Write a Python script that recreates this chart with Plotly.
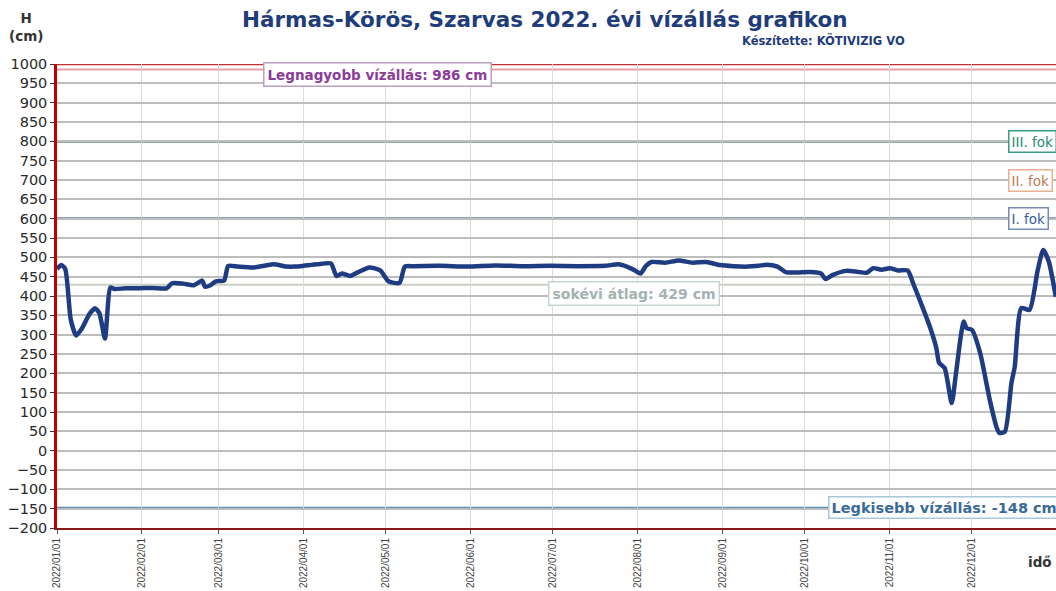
import pandas as pd
import plotly.graph_objects as go

# ---- data (day offset from 2022-01-01, water level cm) ----
day_offsets = [0, 1.5, 3, 5, 7, 9, 12, 14, 15.5, 17.5, 19.5, 21, 25, 30, 35, 40,
               42, 46, 50, 53, 54, 56, 58, 61, 62.5, 66, 72, 79, 84, 87, 90, 95,
               100, 102, 104, 107, 110, 114, 118, 121, 125, 127, 130, 140, 150,
               160, 170, 180, 190, 200, 205, 208, 211, 213, 215, 217, 222, 227,
               232, 237, 242, 247, 252, 256, 259, 263, 266, 270, 275, 279, 280.5,
               283, 288, 292, 295.5, 298, 301, 304, 307, 310.5, 312.5, 316, 318.6,
               321, 322, 324, 326.6, 328, 330, 331, 332, 334, 337, 340.5, 343,
               344, 346, 348.4, 349.6, 352, 355, 358, 360, 362, 364.6]
water_level = [470, 480, 470, 340, 298, 315, 355, 368, 355, 290, 422, 418, 420,
               420, 421, 420, 433, 432, 428, 440, 424, 428, 438, 440, 478, 476,
               474, 482, 476, 476, 478, 482, 484, 452, 458, 452, 462, 474, 466,
               438, 434, 476, 477, 478, 476, 479, 477, 478, 477, 478, 482, 476,
               466, 458, 478, 488, 486, 492, 486, 488, 480, 477, 476, 478, 481,
               476, 462, 461, 462, 458, 444, 454, 465, 463, 460, 472, 468, 472,
               466, 466, 433, 370, 321, 265, 227, 214, 123, 191, 300, 334, 317,
               312, 252, 131, 60, 46, 49, 175, 217, 369, 364, 467, 519, 490, 398]

month_ticks = ["2022-01-01", "2022-02-01", "2022-03-01", "2022-04-01",
               "2022-05-01", "2022-06-01", "2022-07-01", "2022-08-01",
               "2022-09-01", "2022-10-01", "2022-11-01", "2022-12-01"]

# reference levels: (value, label, line colour, width, text colour, border colour)
levels = [
    (800, "III. fok", "#1d5a40", 2.5, "#2a8a78", "#3a9a88"),
    (700, "II. fok", "#a4a448", 2, "#c07a58", "#e8b090"),
    (600, "I. fok", "#2a3c84", 2.5, "#3a5aa8", "#7a8ab8"),
]
max_level = 986
min_level = -148
avg_level = 429

dates = pd.Timestamp("2022-01-01") + pd.to_timedelta(day_offsets, unit="D")

FONT = "DejaVu Sans, Verdana, sans-serif"
FONT_N = "Liberation Sans, Arial, sans-serif"

fig = go.Figure()
fig.add_trace(go.Scatter(
    x=dates, y=water_level, mode="lines",
    line=dict(color="#1f3b82", width=4.5, shape="spline", smoothing=0.6),
    showlegend=False, hoverinfo="skip"))

shapes = []
def hline(y, color, width):
    shapes.append(dict(type="line", xref="paper", x0=0, x1=1, yref="y", y0=y, y1=y,
                       line=dict(color=color, width=width), layer="below"))

hline(1000, "#c03030", 2.5)
hline(max_level, "#e8a0a8", 2)
for v, _, c, w, _, _ in levels:
    hline(v, c, w)
hline(avg_level, "#c8d0c4", 2)
hline(min_level, "#5a90b8", 2.5)

def px2x(px):
    return (px - 57) / 999.0

def py2y(py):
    return (528 - py) / 464.0

annotations = []
for v, lab, c, w, tc, bc in levels:
    annotations.append(dict(xref="paper", x=px2x(1008), xanchor="left", yref="y", y=v,
                            yanchor="middle", text=lab, showarrow=False,
                            font=dict(family=FONT, size=13.5, color=tc),
                            bgcolor="white", bordercolor=bc, borderwidth=1.5, borderpad=2))

annotations.append(dict(xref="paper", x=px2x(263), xanchor="left", yref="y", y=973,
                        yanchor="middle", text="<b>Legnagyobb vízállás: 986 cm</b>",
                        showarrow=False, font=dict(family=FONT, size=13.5, color="#8a3c98"),
                        bgcolor="white", bordercolor="#b8a0c0", borderwidth=1.5, borderpad=3))
annotations.append(dict(xref="paper", x=px2x(548), xanchor="left", yref="y", y=407,
                        yanchor="middle", text="<b>sokévi átlag: 429 cm</b>",
                        showarrow=False, font=dict(family=FONT, size=14, color="#a4b2b2"),
                        bgcolor="white", bordercolor="#c8d4d4", borderwidth=1.5, borderpad=3))
annotations.append(dict(xref="paper", x=px2x(828), xanchor="left", yref="y", y=min_level,
                        yanchor="middle", text="<b>Legkisebb vízállás: -148 cm</b>",
                        showarrow=False, font=dict(family=FONT, size=14.5, color="#3a6a98"),
                        bgcolor="white", bordercolor="#a8c8dc", borderwidth=1.5, borderpad=2))

annotations.append(dict(xref="paper", x=px2x(545), xanchor="center", yref="paper",
                        y=py2y(20), yanchor="middle",
                        text="<b>Hármas-Körös, Szarvas 2022. évi vízállás grafikon</b>",
                        showarrow=False, font=dict(family=FONT, size=21.5, color="#1f3d7a")))
annotations.append(dict(xref="paper", x=px2x(823), xanchor="center", yref="paper",
                        y=py2y(40), yanchor="middle",
                        text="<b>Készítette: KÖTIVIZIG VO</b>",
                        showarrow=False, font=dict(family=FONT, size=11.5, color="#1f3d7a")))
annotations.append(dict(xref="paper", x=px2x(26), xanchor="center", yref="paper",
                        y=py2y(27), yanchor="middle", text="<b>H<br>(cm)</b>",
                        showarrow=False, font=dict(family=FONT, size=13.5, color="#333333")))
annotations.append(dict(xref="paper", x=px2x(1040), xanchor="center", yref="paper",
                        y=py2y(562), yanchor="middle", text="<b>idő</b>",
                        showarrow=False, font=dict(family=FONT, size=13.5, color="#333333")))

fig.update_layout(
    width=1056, height=591,
    margin=dict(l=57, r=0, t=64, b=63),
    paper_bgcolor="white", plot_bgcolor="white",
    shapes=shapes, annotations=annotations,
    xaxis=dict(type="date", range=["2022-01-01", "2022-12-31 16:00"],
               tickvals=month_ticks, tickformat="%Y/%m/%d", tickangle=-90,
               tickfont=dict(family=FONT_N, size=10, color="#444444"),
               showgrid=True, gridcolor="#dcdcdc", gridwidth=1,
               showline=True, linecolor="#8b1a1a", linewidth=2,
               ticks="outside", ticklen=4, tickcolor="#555555", zeroline=False),
    yaxis=dict(range=[-200, 1000], dtick=50, tick0=0,
               tickfont=dict(family=FONT, size=14.5, color="#2a2a2a"),
               showgrid=True, gridcolor="#bdbdbd", gridwidth=1.5,
               showline=True, linecolor="#c00000", linewidth=2.5,
               ticks="outside", ticklen=4, tickcolor="#333333", zeroline=False),
)

fig.write_html(
    "out.html",
    config={"displayModeBar": False},
    post_script="document.documentElement.style.margin='0';"
                "document.body.style.margin='0';document.body.style.overflow='hidden';",
)
